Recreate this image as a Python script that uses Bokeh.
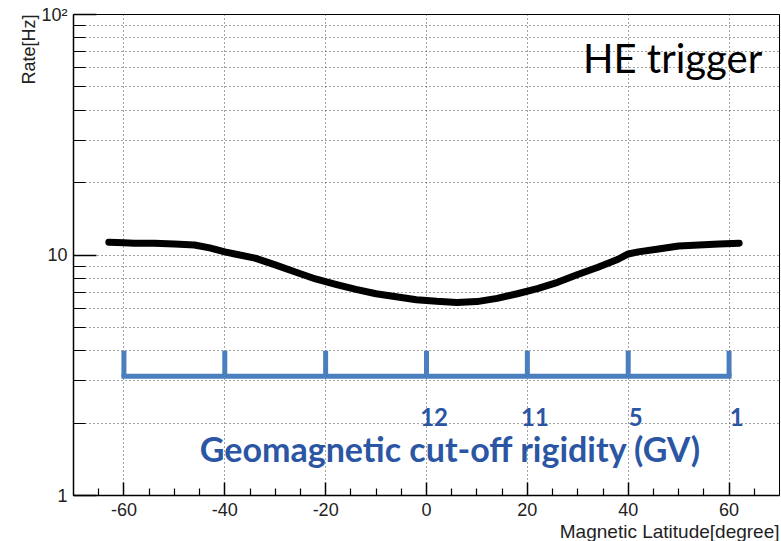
from bokeh.plotting import figure
from bokeh.models import Range1d, FixedTicker, Title, Label, ColumnDataSource
from bokeh.embed import file_html
from bokeh.resources import INLINE
from bokeh.core.properties import value

# ---- data ----
latitude = [-63, -60, -58, -54, -50, -46, -43, -40, -38, -34, -30, -26, -22, -18, -14,
            -10, -6, -2, 2, 6, 10, 14, 18, 22, 26, 30, 34, 38, 40, 42, 46, 50, 54, 58, 62]
rate = [11.3, 11.25, 11.2, 11.2, 11.1, 11.0, 10.7, 10.3, 10.1, 9.7, 9.1, 8.5, 7.95, 7.55, 7.2,
        6.9, 6.7, 6.52, 6.42, 6.35, 6.4, 6.6, 6.9, 7.25, 7.7, 8.3, 8.9, 9.6, 10.1, 10.3,
        10.6, 10.9, 11.0, 11.1, 11.2]

bracket_lat = [-60, -40, -20, 0, 20, 40, 60]
bracket_low = 3.13
bracket_high = 4.0
rigidity_lat = [0, 20, 40, 60]
rigidity_labels = ["12", "11", "5", "1"]

x_major = [-60, -40, -20, 0, 20, 40, 60]
x_labels = {-60: "-60", -40: "-40", -20: "-20", 0: "0", 20: "20", 40: "40", 60: "60"}
x_minor = [-65, -55, -50, -45, -35, -30, -25, -15, -10, -5, 5, 10, 15, 25, 30, 35, 45, 50, 55, 65]
y_major = [1, 10, 100]
y_minor = [2, 3, 4, 5, 6, 7, 8, 9, 20, 30, 40, 50, 60, 70, 80, 90]
y_labels = {1: "1", 10: "10", 100: "10²"}

BLUE_LINE = "#4a7ebf"
BLUE_TEXT = "#2b56a3"
GRID = "#444444"

p = figure(width=781, height=541, x_range=Range1d(-70, 70), y_range=Range1d(1, 100),
           y_axis_type="log", output_backend="svg", toolbar_location=None,
           min_border_left=73, min_border_right=2, min_border_top=14, min_border_bottom=45)
p.background_fill_color = "white"
p.border_fill_color = "white"
p.outline_line_color = "black"
p.outline_line_width = 1

# axes
for ax in (p.xaxis[0], p.yaxis[0]):
    ax.axis_line_color = "black"
    ax.axis_line_width = 1.5
    ax.major_tick_line_color = "black"
    ax.minor_tick_line_color = "black"
    ax.major_tick_line_width = 1.5
    ax.minor_tick_line_width = 1.2
    ax.major_tick_out = 0
    ax.minor_tick_out = 0
    ax.major_label_text_font = "Liberation Sans"
    ax.major_label_text_font_size = "18px"
    ax.major_label_text_color = "#222222"

p.xaxis.ticker = FixedTicker(ticks=x_major, minor_ticks=x_minor)
p.xaxis.major_label_overrides = x_labels
p.xaxis.major_tick_in = 13
p.xaxis.minor_tick_in = 7
p.xaxis.major_label_standoff = 7

p.yaxis.ticker = FixedTicker(ticks=y_major, minor_ticks=y_minor)
p.yaxis.major_tick_in = 23
p.yaxis.minor_tick_in = 12
p.yaxis.major_label_standoff = 6
p.yaxis.major_label_overrides = y_labels

# grids
p.xgrid.grid_line_color = GRID
p.xgrid.grid_line_dash = "1 3"
p.xgrid.grid_line_width = 1
p.ygrid.grid_line_color = GRID
p.ygrid.grid_line_dash = "1 3"
p.ygrid.grid_line_width = 1
p.ygrid.minor_grid_line_color = GRID
p.ygrid.minor_grid_line_dash = "1 3"
p.ygrid.minor_grid_line_width = 1

# axis titles (ROOT style, at the end of the axis)
xt = Title(text="Magnetic Latitude[degree]", align="right", text_font="Liberation Sans",
           text_font_size="19px", text_font_style="normal", text_color="#222222", standoff=0)
p.add_layout(xt, "below")
yt = Title(text="Rate[Hz]", align="right", text_font="Liberation Sans",
           text_font_size="18px", text_font_style="normal", text_color="#222222", standoff=0)
p.add_layout(yt, "left")

# curve
src = ColumnDataSource(dict(x=latitude, y=rate))
p.line("x", "y", source=src, line_color="black", line_width=7, line_cap="round", line_join="round")

# rigidity bracket
p.segment(x0=[bracket_lat[0]], y0=[bracket_low], x1=[bracket_lat[-1]], y1=[bracket_low],
          line_color=BLUE_LINE, line_width=5, line_cap="square")
p.segment(x0=bracket_lat, y0=[bracket_low] * len(bracket_lat), x1=bracket_lat,
          y1=[bracket_high] * len(bracket_lat), line_color=BLUE_LINE, line_width=5)

p.text(x=[v + 1.5 for v in rigidity_lat], y=[2.13] * len(rigidity_lat), text=rigidity_labels,
       text_font=value("Lato"), text_font_style="bold", text_font_size="24px",
       text_color=BLUE_TEXT, text_align="center", text_baseline="middle")

p.add_layout(Label(x=4.8, y=1.57, text="Geomagnetic cut-off rigidity (GV)", text_font="Lato",
                   text_font_style="bold", text_font_size="34px", text_color=BLUE_TEXT,
                   text_align="center", text_baseline="middle"))

p.add_layout(Label(x=48.8, y=65.7, text="HE trigger", text_font="Lato",
                   text_font_size="40px", text_color="black",
                   text_align="center", text_baseline="alphabetic"))

open("out.html", "w").write(file_html(p, INLINE))
